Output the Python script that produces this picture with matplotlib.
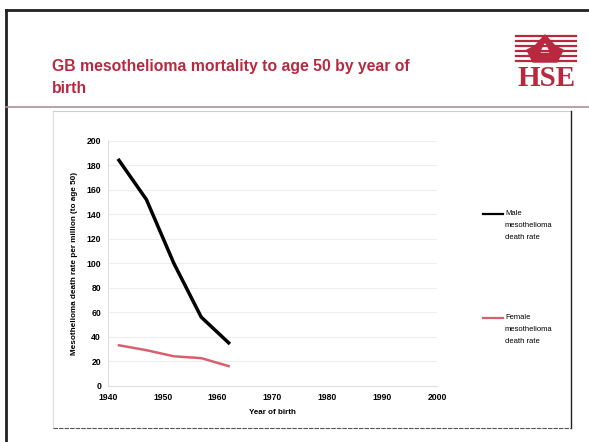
import numpy as np
import matplotlib.pyplot as plt
from matplotlib.patches import Polygon

# data
years = [1942, 1947, 1952, 1957, 1962]
male = [184, 152, 100, 56, 35]
female = [33, 29, 24, 22.5, 16]
xticks = [1940, 1950, 1960, 1970, 1980, 1990, 2000]
yticks = [0, 20, 40, 60, 80, 100, 120, 140, 160, 180, 200]

red = '#b8293f'
plt.rcParams['font.family'] = ['Liberation Sans', 'DejaVu Sans']

fig = plt.figure(figsize=(5.89, 4.42), dpi=100)

# slide decoration, drawn in pixel coords
bg = fig.add_axes([0, 0, 1, 1], zorder=0)
bg.set_xlim(0, 589)
bg.set_ylim(442, 0)
bg.axis('off')
bg.plot([6, 6], [10, 442], color='#222222', lw=2)
bg.plot([6, 589], [10, 10], color='#222222', lw=2)
bg.plot([6, 589], [107, 107], color='#b09098', lw=1.2)
# chart box
bg.plot([53, 53], [111, 428], color='#dddddd', lw=0.8)
bg.plot([53, 571], [111, 111], color='#cccccc', lw=0.8)
bg.plot([571, 571], [111, 428], color='#222222', lw=1)
bg.plot([53, 571], [428, 428], color='#555555', lw=0.8, ls=(0, (4, 1)))

# slide title, two lines
bg.text(52, 71, 'GB mesothelioma mortality to age 50 by year of',
        color=red, fontsize=11.3, fontweight='bold', va='baseline', ha='left')
bg.text(52, 93, 'birth',
        color=red, fontsize=11.3, fontweight='bold', va='baseline', ha='left')

# HSE logo
for yy in [36, 41, 46, 51, 56, 61]:
    bg.plot([516, 576], [yy, yy], color=red, lw=1.6)
bg.add_patch(Polygon([[545, 35], [535, 46], [527, 50], [533, 62], [557, 62],
                      [563, 50], [555, 46]], closed=True, color=red))
bg.add_patch(Polygon([[545, 44], [541, 52], [549, 52]], closed=True, color='white'))
bg.text(547, 79, 'HSE', color=red, fontsize=21, fontweight='bold',
        family='Liberation Serif', ha='center', va='center')

# chart
ax = fig.add_axes([108 / 589, 1 - 385.7 / 442, 329 / 589, 245 / 442], zorder=1)
ax.patch.set_alpha(0)
ax.plot(years, male, color='black', lw=2.5)
ax.plot(years, female, color='#d8606e', lw=1.8)
ax.set_xlim(1940, 2000)
ax.set_ylim(0, 200)
ax.set_xticks(xticks)
ax.set_yticks(yticks)
ax.tick_params(labelsize=6.2, length=0, pad=5)
for lab in ax.get_xticklabels() + ax.get_yticklabels():
    lab.set_fontweight('bold')
ax.grid(axis='y', color='#eeeeee', lw=0.8)
for s in ['top', 'right']:
    ax.spines[s].set_visible(False)
ax.spines['left'].set_color('#dddddd')
ax.spines['bottom'].set_color('#dddddd')
ax.set_xlabel('Year of birth', fontsize=5.8, fontweight='bold', labelpad=5)
ax.set_ylabel('Mesothelioma death rate per million (to age 50)', fontsize=5.9,
              fontweight='bold', labelpad=6)

# legend entries at the right of the box
bg.plot([483, 503], [214, 214], color='black', lw=1.6)
bg.text(505, 210, 'Male\nmesothelioma\ndeath rate', fontsize=5.5, va='top',
        ha='left', linespacing=2.0)
bg.plot([483, 503], [318, 318], color='#d8606e', lw=1.6)
bg.text(505, 314, 'Female\nmesothelioma\ndeath rate', fontsize=5.5, va='top',
        ha='left', linespacing=2.0)

fig.savefig('out.png', dpi=100)
